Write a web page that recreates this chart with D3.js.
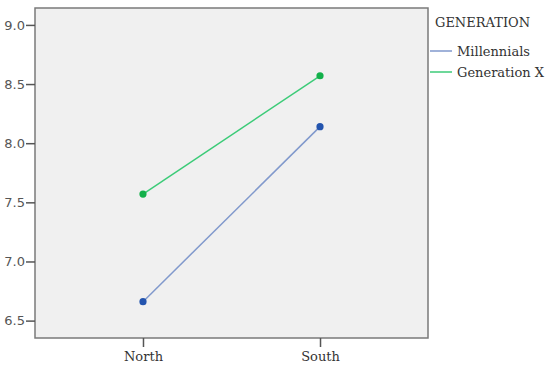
<!DOCTYPE html>
<html>
<head>
<meta charset="utf-8">
<script src="https://cdn.jsdelivr.net/npm/d3@7"></script>
<style>
  body { margin: 0; background: #fff; }
</style>
</head>
<body>
<div id="chart"></div>
<script>
// Chart values.
const regions = ["North", "South"];
const seriesNames = ["Millennials", "Generation X"];
const millennials = [6.66, 8.14];
const generationX = [7.57, 8.57];
const yTicks = [6.5, 7.0, 7.5, 8.0, 8.5, 9.0];

const lineColors = ["#8199cc", "#3ccb78"];
const dotColors = ["#2354ae", "#13b04a"];

const W = 550, H = 367;
const plot = { left: 35, top: 8, right: 428, bottom: 338 };
const serif = "DejaVu Serif, serif";

const svg = d3.select("#chart").append("svg")
  .attr("width", W)
  .attr("height", H);

// Scales
const x = d3.scalePoint()
  .domain(regions)
  .range([plot.left, plot.right])
  .padding(0.61);

const y = d3.scaleLinear()
  .domain([6.353, 9.143])
  .range([plot.bottom, plot.top]);

// Plot background + frame
svg.append("rect")
  .attr("x", plot.left)
  .attr("y", plot.top)
  .attr("width", plot.right - plot.left)
  .attr("height", plot.bottom - plot.top)
  .attr("fill", "#f0f0f0")
  .attr("stroke", "#7a7a7a")
  .attr("stroke-width", 1.5);

// Y axis
const yAxis = svg.append("g")
  .attr("transform", `translate(${plot.left},0)`)
  .call(d3.axisLeft(y).tickValues(yTicks).tickFormat(d3.format(".1f")).tickSize(9).tickSizeOuter(0));
yAxis.select(".domain").remove();
yAxis.selectAll(".tick line").attr("stroke", "#555").attr("stroke-width", 1.5);
yAxis.selectAll(".tick text")
  .attr("x", -10)
  .attr("fill", "#555")
  .style("font-family", "DejaVu Sans, sans-serif")
  .style("font-size", "13px");

// X axis
const xAxis = svg.append("g")
  .attr("transform", `translate(0,${plot.bottom})`)
  .call(d3.axisBottom(x).tickSize(9).tickSizeOuter(0));
xAxis.select(".domain").remove();
xAxis.selectAll(".tick line").attr("stroke", "#555").attr("stroke-width", 1.5);
xAxis.selectAll(".tick text")
  .attr("y", 14)
  .attr("fill", "#333")
  .style("font-family", serif)
  .style("font-size", "13px");

// Lines and markers
const series = [millennials, generationX];
const line = d3.line()
  .x((d, i) => x(regions[i]))
  .y(d => y(d));

series.forEach((vals, s) => {
  svg.append("path")
    .datum(vals)
    .attr("fill", "none")
    .attr("stroke", lineColors[s])
    .attr("stroke-width", 1.5)
    .attr("d", line);

  svg.selectAll(null)
    .data(vals)
    .enter().append("circle")
    .attr("cx", (d, i) => x(regions[i]))
    .attr("cy", d => y(d))
    .attr("r", 3.6)
    .attr("fill", dotColors[s]);
});

// Legend
const legend = svg.append("g").attr("transform", "translate(430,0)");
legend.append("text")
  .attr("x", 5)
  .attr("y", 27)
  .attr("fill", "#333")
  .style("font-family", serif)
  .style("font-size", "13px")
  .text("GENERATION");

seriesNames.forEach((name, i) => {
  const ly = 51 + i * 21;
  legend.append("line")
    .attr("x1", 0).attr("x2", 22)
    .attr("y1", ly).attr("y2", ly)
    .attr("stroke", lineColors[i])
    .attr("stroke-width", 1.5);
  legend.append("text")
    .attr("x", 27)
    .attr("y", ly + 4.5)
    .attr("fill", "#333")
    .style("font-family", serif)
    .style("font-size", "13px")
    .text(name);
});
</script>
</body>
</html>
